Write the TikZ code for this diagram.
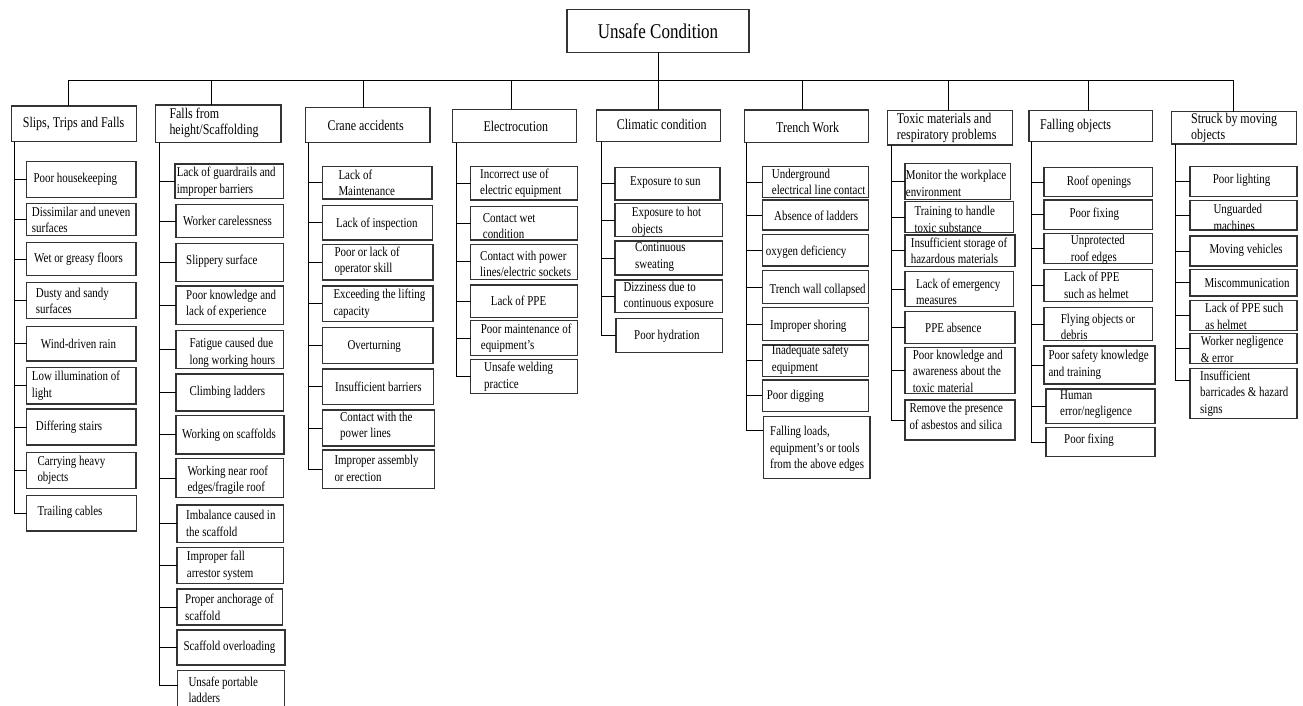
\documentclass[tikz,border=0pt]{standalone}
\usepackage{fontspec}
\setmainfont[FakeStretch=0.81]{Liberation Serif}

\tikzset{
  boxline/.style={draw=black!80, line width=1.1pt, inner sep=0pt, outer sep=0pt},
  leaftext/.style={font=\fontsize{13.5}{16.5}\selectfont, align=left, inner sep=0pt, anchor=west},
  headtext/.style={font=\fontsize{14.8}{16.4}\selectfont, align=left, inner sep=0pt, anchor=west},
  roottext/.style={font=\fontsize{21}{24}\selectfont},
  conn/.style={draw=black, line width=0.9pt},
}

% #1 name, #2 left, #3 top, #4 right, #5 bottom,
% #6 text indent, #7 text drop, #8 text style, #9 text
\newcommand\placebox[9]{%
  \node[boxline, minimum width={(#4-#2)*1pt}, minimum height={(#5-#3)*1pt}]
    (#1) at ({(#2+#4)/2},{(#3+#5)/2}) {};
  \node[#8] (#1t) at ([xshift={(#6)*1pt}, yshift={-(#7)*1pt}]#1.west) {#9};
}

\begin{document}
\begin{tikzpicture}[x=1pt, y=-1pt]
\useasboundingbox (0,0) rectangle (1303,706);
\clip (0,0) rectangle (1303,706);

% root
\node[boxline, roottext, minimum width=182pt, minimum height=43pt] (root) at (658,30.8) {Unsafe Condition};

% category headers
\placebox{h1}{11.7}{106}{136.7}{141.7}{11}{0}{headtext}{Slips, Trips and Falls}
\placebox{h2}{155.7}{105}{281}{142.7}{13.6}{-1.2}{headtext}{Falls from\\height/Scaffolding}
\placebox{h3}{305.7}{107.7}{430}{142.7}{21.6}{0.5}{headtext}{Crane accidents}
\placebox{h4}{452.3}{109.3}{576.7}{142.7}{31}{0.7}{headtext}{Electrocution}
\placebox{h5}{596.7}{110}{720.7}{141.7}{20}{-1.5}{headtext}{Climatic condition}
\placebox{h6}{744.3}{110}{868.3}{142.7}{31.7}{1.4}{headtext}{Trench Work}
\placebox{h7}{887.3}{110.7}{1012.7}{145}{9.4}{0}{headtext}{Toxic materials and\\respiratory problems}
\placebox{h8}{1029}{110.7}{1152.7}{141.7}{11}{0}{headtext}{Falling objects}
\placebox{h9}{1171.7}{111.7}{1296.7}{144}{19.3}{0}{headtext}{Struck by moving\\objects}

% slips, trips and falls
\placebox{a1}{26.7}{161.7}{136}{197.7}{6.6}{0}{leaftext}{Poor housekeeping}
\placebox{a2}{26.7}{203.3}{136}{235.7}{5}{0.5}{leaftext}{Dissimilar and uneven\\surfaces}
\placebox{a3}{26.7}{242.7}{136}{275.7}{7.3}{0}{leaftext}{Wet or greasy floors}
\placebox{a4}{26.7}{282.7}{136}{318.7}{9}{0}{leaftext}{Dusty and sandy\\surfaces}
\placebox{a5}{26.7}{326.7}{136}{361}{14}{0.5}{leaftext}{Wind-driven rain}
\placebox{a6}{26.7}{367.7}{136}{404}{5}{0}{leaftext}{Low illumination of\\light}
\placebox{a7}{26.7}{409}{136}{445}{9}{0}{leaftext}{Differing stairs}
\placebox{a8}{26.7}{452.3}{136}{488.3}{10.6}{0}{leaftext}{Carrying heavy\\objects}
\placebox{a9}{26.7}{495.7}{136.7}{531}{10.6}{-1}{leaftext}{Trailing cables}

% falls from height / scaffolding
\placebox{b1}{175}{164}{283.3}{198.7}{1.7}{0.4}{leaftext}{Lack of guardrails and\\improper barriers}
\placebox{b2}{176}{204.3}{283.3}{237.7}{7}{0}{leaftext}{Worker carelessness}
\placebox{b3}{176}{243.3}{283.3}{281.7}{10}{-1.5}{leaftext}{Slippery surface}
\placebox{b4}{176}{286}{283.3}{324.3}{10}{-1}{leaftext}{Poor knowledge and\\lack of experience}
\placebox{b5}{176}{330.7}{283.3}{368.3}{13.3}{3.5}{leaftext}{Fatigue caused due\\long working hours}
\placebox{b6}{176}{374}{283.3}{411}{13.3}{0}{leaftext}{Climbing ladders}
\placebox{b7}{176}{415.7}{284}{454}{6}{0}{leaftext}{Working on scaffolds}
\placebox{b8}{176}{458.3}{283.3}{497.7}{11.3}{2}{leaftext}{Working near roof\\edges/fragile roof}
\placebox{b9}{177}{505}{283.3}{542.3}{9}{-0.5}{leaftext}{Imbalance caused in\\the scaffold}
\placebox{b10}{177}{547.7}{283.3}{583.3}{9.7}{0}{leaftext}{Improper fall\\arrestor system}
\placebox{b11}{177}{589}{282.7}{625}{8}{0.5}{leaftext}{Proper anchorage of\\scaffold}
\placebox{b12}{177}{630}{285}{665}{6.3}{0}{leaftext}{Scaffold overloading}
\placebox{b13}{177.7}{670.7}{284.3}{712}{10.6}{-1.6}{leaftext}{Unsafe portable\\ladders}

% crane accidents
\placebox{c1}{322.3}{166.7}{432}{199}{16}{0.2}{leaftext}{Lack of\\Maintenance}
\placebox{c2}{322.3}{205.7}{432.7}{240}{13.7}{1.5}{leaftext}{Lack of inspection}
\placebox{c3}{322.3}{244.3}{433}{280}{12}{-1}{leaftext}{Poor or lack of\\operator skill}
\placebox{c4}{322.3}{286}{433}{321.7}{11}{0}{leaftext}{Exceeding the lifting\\capacity}
\placebox{c5}{322.3}{327.3}{433}{363.3}{25}{0.7}{leaftext}{Overturning}
\placebox{c6}{322.3}{369}{433.7}{404.3}{12.7}{0}{leaftext}{Insufficient barriers}
\placebox{c7}{322.3}{410}{434.7}{446}{17.7}{-1.7}{leaftext}{Contact with the\\power lines}
\placebox{c8}{322.3}{450}{434.7}{488.3}{12}{-0.7}{leaftext}{Improper assembly\\or erection}

% electrocution
\placebox{d1}{470.7}{166.7}{577.3}{200}{9.3}{0}{leaftext}{Incorrect use of\\electric equipment}
\placebox{d2}{470.7}{206.7}{577.3}{240}{12}{2.7}{leaftext}{Contact wet\\condition}
\placebox{d3}{470.7}{244.3}{577.3}{279.3}{9.3}{2.2}{leaftext}{Contact with power\\lines/electric sockets}
\placebox{d4}{470.7}{285}{577.3}{317.7}{20}{-0.6}{leaftext}{Lack of PPE}
\placebox{d5}{470.7}{320.7}{577.3}{355.7}{10}{0}{leaftext}{Poor maintenance of\\equipment’s}
\placebox{d6}{470.7}{359.3}{577.3}{393.3}{13.3}{0.3}{leaftext}{Unsafe welding\\practice}

% climatic condition
\placebox{e1}{615}{167.3}{720}{200}{15}{-1}{leaftext}{Exposure to sun}
\placebox{e2}{615}{203.3}{722.7}{236.7}{16.7}{1.7}{leaftext}{Exposure to hot\\objects}
\placebox{e3}{615}{241}{722.7}{275}{20}{-1}{leaftext}{Continuous\\sweating}
\placebox{e4}{615}{280}{722.7}{312.7}{8.3}{0}{leaftext}{Dizziness due to\\continuous exposure}
\placebox{e5}{616}{318.3}{722.7}{352.7}{18}{0.5}{leaftext}{Poor hydration}

% trench work
\placebox{f1}{762.3}{166.7}{868.3}{197.3}{9.4}{0}{leaftext}{Underground\\electrical line contact}
\placebox{f2}{762.3}{200}{868.3}{230}{11.7}{0.7}{leaftext}{Absence of ladders}
\placebox{f3}{762.3}{234.3}{868.3}{266}{3.4}{2.5}{leaftext}{oxygen deficiency}
\placebox{f4}{762.3}{270.7}{868.3}{303.3}{7}{3.7}{leaftext}{Trench wall collapsed}
\placebox{f5}{762.3}{307.3}{868.3}{340.7}{7.7}{2}{leaftext}{Improper shoring}
\placebox{f6}{762.3}{345}{868.3}{376.7}{9.4}{-1}{leaftext}{Inadequate safety\\equipment}
\placebox{f7}{762.3}{380}{868.3}{411.7}{4.4}{0}{leaftext}{Poor digging}
\placebox{f8}{763.3}{416.7}{870}{478.3}{6.7}{1.5}{leaftext}{Falling loads,\\equipment’s or tools\\from the above edges}

% toxic materials and respiratory problems
\placebox{g1}{905}{163.3}{1010.7}{199.3}{0.7}{2}{leaftext}{Monitor the workplace\\environment}
\placebox{g2}{905}{201.7}{1013.7}{232.7}{9.3}{2}{leaftext}{Training to handle\\toxic substance}
\placebox{g3}{905}{235}{1015}{266.7}{5.7}{0}{leaftext}{Insufficient storage of\\hazardous materials}
\placebox{g4}{905}{271.7}{1013.7}{306.7}{11}{2.8}{leaftext}{Lack of emergency\\measures}
\placebox{g5}{905}{311.7}{1015}{343.3}{20}{0.8}{leaftext}{PPE absence}
\placebox{g6}{905}{347.3}{1015}{393.3}{7.7}{1}{leaftext}{Poor knowledge and\\awareness about the\\toxic material}
\placebox{g7}{905}{400}{1015}{440}{4.3}{-3.7}{leaftext}{Remove the presence\\of asbestos and silica}

% falling objects
\placebox{k1}{1044}{167.3}{1152.7}{196.7}{22.7}{0}{leaftext}{Roof openings}
\placebox{k2}{1044}{200}{1152.7}{229.3}{25.3}{0}{leaftext}{Poor fixing}
\placebox{k3}{1044}{233.3}{1152.7}{263.3}{26.7}{1.7}{leaftext}{Unprotected\\roof edges}
\placebox{k4}{1044}{269.3}{1152.7}{301.7}{20}{0}{leaftext}{Lack of PPE\\such as helmet}
\placebox{k5}{1044}{307.3}{1152.7}{340.7}{16.7}{2.7}{leaftext}{Flying objects or\\debris}
\placebox{k6}{1044}{346}{1155}{384}{4.3}{-0.5}{leaftext}{Poor safety knowledge\\and training}
\placebox{k7}{1046}{389}{1155}{423.3}{14}{-1.5}{leaftext}{Human\\error/negligence}
\placebox{k8}{1046}{427.3}{1155}{456.7}{18}{-2}{leaftext}{Poor fixing}

% struck by moving objects
\placebox{m1}{1190}{166.7}{1297}{196.7}{22.7}{-1}{leaftext}{Poor lighting}
\placebox{m2}{1190}{200.7}{1297}{230}{23.3}{2}{leaftext}{Unguarded\\machines}
\placebox{m3}{1190}{236}{1297}{266}{19.3}{-1}{leaftext}{Moving vehicles}
\placebox{m4}{1190}{269.3}{1297}{296}{14.3}{0}{leaftext}{Miscommunication}
\placebox{m5}{1190}{300.7}{1297}{330.7}{15}{0.6}{leaftext}{Lack of PPE such\\as helmet}
\placebox{m6}{1190}{333.3}{1297}{363.3}{10.7}{0.9}{leaftext}{Worker negligence\\\& error}
\placebox{m7}{1190}{368.3}{1297}{418.3}{10}{0}{leaftext}{Insufficient\\barricades \& hazard\\signs}

% bus from the root to every category
\coordinate (bus) at ([yshift=-27.7pt]root.south);
\draw[conn] (root.south) -- (bus);
\foreach \h/\dx in {h1/-6.2, h2/-6.6, h3/-4.6, h4/-3.5, h5/-0.5, h6/-4, h7/-1.7, h8/-2.7, h9/-0.9}
  \draw[conn] (bus) -| ([xshift=\dx pt]\h.north);

% trunks and stubs of each category
\foreach \l in {a1,a2,a3,a4,a5,a6,a7,a8,a9}
  \draw[conn] ([xshift=3pt]h1.south west) |- (\l.west);
\foreach \l in {b1,b2,b3,b4,b5,b6,b7,b8,b9,b10,b11,b12}
  \draw[conn] ([xshift=3.6pt]h2.south west) |- (\l.west);
\draw[conn] ([xshift=3.6pt]h2.south west) |- ([yshift=6pt]b13.west);
\foreach \l in {c1,c2,c3,c4,c5,c6,c7,c8}
  \draw[conn] ([xshift=2.6pt]h3.south west) |- (\l.west);
\foreach \l in {d1,d2,d3,d4,d5,d6}
  \draw[conn] ([xshift=4.4pt]h4.south west) |- (\l.west);
\foreach \l in {e1,e2,e3,e4,e5}
  \draw[conn] ([xshift=4.3pt]h5.south west) |- (\l.west);
\foreach \l in {f1,f2,f3,f4,f5,f6,f7}
  \draw[conn] ([xshift=2.4pt]h6.south west) |- (\l.west);
\draw[conn] ([xshift=2.4pt]h6.south west) |- ([yshift=17.5pt]f8.west);
\foreach \l in {g1,g2,g3,g4,g5,g6,g7}
  \draw[conn] ([xshift=4.4pt]h7.south west) |- (\l.west);
\foreach \l in {k1,k2,k3,k4,k5,k6,k7,k8}
  \draw[conn] ([xshift=2.7pt]h8.south west) |- (\l.west);
\foreach \l in {m1,m2,m3,m4,m5,m6}
  \draw[conn] ([xshift=3.3pt]h9.south west) |- (\l.west);
\draw[conn] ([xshift=3.3pt]h9.south west) |- ([yshift=13.3pt]m7.west);
\end{tikzpicture}
\end{document}
